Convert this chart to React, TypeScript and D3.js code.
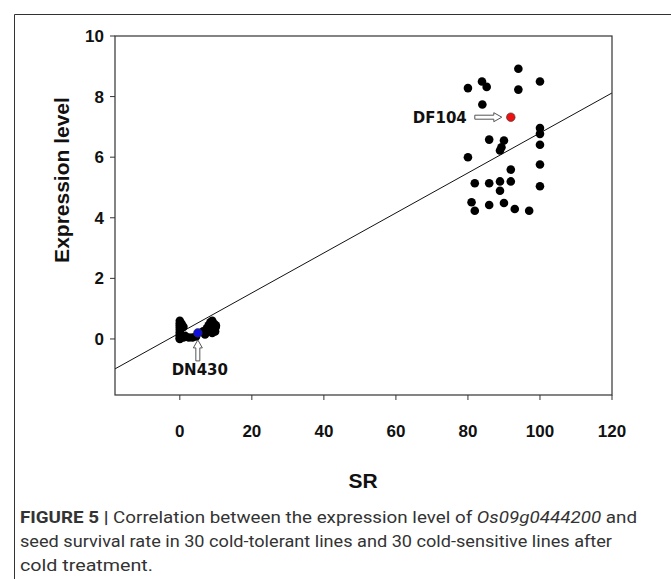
import React from "react";
import * as d3 from "d3";

const W = 671;
const H = 579;

// x ticks / y ticks
const xTicks = [0, 20, 40, 60, 80, 100, 120];
const yTicks = [0, 2, 4, 6, 8, 10];

// cold-tolerant lines (high SR)
const highSR = [94, 100, 80, 83.9, 85.2, 94, 84, 100, 100, 100, 85.9, 90, 89.3, 88.9, 80, 100, 91.9, 100, 81.9, 85.9, 88.9, 88.9, 91.9, 81, 81.9, 85.9, 90, 93, 97];
const highExpr = [8.92, 8.5, 8.28, 8.5, 8.32, 8.23, 7.74, 6.96, 6.77, 6.41, 6.58, 6.55, 6.33, 6.22, 6.0, 5.76, 5.59, 5.04, 5.14, 5.14, 5.2, 4.89, 5.2, 4.51, 4.23, 4.42, 4.49, 4.29, 4.23];

// cold-sensitive lines (low SR)
const lowSR = [0, 0, 0, 0, 0, 0, 0, 0, 0, 0.5, 1, 1.5, 2.5, 3.5, 4.5, 6.5, 7.5, 8, 8.5, 9, 9.5, 9.5, 10, 9, 10, 0, 1, 7, 9.8];
const lowExpr = [0.6, 0.52, 0.45, 0.38, 0.3, 0.22, 0.15, 0.08, 0.02, 0.5, 0.4, 0.1, 0.05, 0.05, 0.08, 0.25, 0.35, 0.45, 0.55, 0.6, 0.5, 0.3, 0.4, 0.2, 0.45, 0.0, 0.05, 0.15, 0.25];

// highlighted lines
const highlightNames = ["DF104", "DN430"];
const highlightSR = [91.9, 5];
const highlightExpr = [7.32, 0.2];
const highlightColors = ["#ee1111", "#1010dd"];

// regression line
const lineIntercept = 0.2;
const lineSlope = 0.066;

const xDomain = [-18, 120];
const yDomain = [-1.85, 10];

export default function App() {
  const left = 115, right = 612, top = 36, bottom = 395;
  const x = d3.scaleLinear().domain(xDomain).range([left, right]);
  const y = d3.scaleLinear().domain(yDomain).range([bottom, top]);
  const r = 4.3;

  const lineGen = d3.line<number>().x((d) => x(d)).y((d) => y(lineIntercept + lineSlope * d));

  const font = "'Liberation Sans', Arial, sans-serif";

  // DF104 arrow (horizontal, pointing right)
  const dfx = x(highlightSR[0]);
  const dfy = y(highlightExpr[0]);
  const ax0 = dfx - 36, ax1 = dfx - 9;
  const hArrow = `M${ax0},${dfy - 2} L${ax1 - 8},${dfy - 2} L${ax1 - 8},${dfy - 4.5} L${ax1},${dfy} L${ax1 - 8},${dfy + 4.5} L${ax1 - 8},${dfy + 2} L${ax0},${dfy + 2} Z`;

  // DN430 arrow (vertical, pointing up)
  const dnx = x(highlightSR[1]);
  const dny = y(highlightExpr[1]);
  const ay0 = dny + 28, ay1 = dny + 7;
  const vArrow = `M${dnx - 2},${ay0} L${dnx - 2},${ay1 + 8} L${dnx - 4.5},${ay1 + 8} L${dnx},${ay1} L${dnx + 4.5},${ay1 + 8} L${dnx + 2},${ay1 + 8} L${dnx + 2},${ay0} Z`;

  return (
    <svg width={W} height={H} style={{ position: "absolute", left: 0, top: 0, background: "#fff" }}>
      {/* outer frame */}
      <path d={`M14.5,${H} V14.5 H${W}`} fill="none" stroke="#333" strokeWidth={1} />

      {/* regression line */}
      <path d={lineGen([xDomain[0], xDomain[1]]) || ""} fill="none" stroke="#111" strokeWidth={1} />

      {/* plot box */}
      <rect x={left} y={top} width={right - left} height={bottom - top} fill="none" stroke="#333" strokeWidth={1.2} />

      {/* x ticks */}
      {xTicks.map((t) => (
        <g key={"xt" + t}>
          <line x1={x(t)} x2={x(t)} y1={bottom} y2={bottom + 5} stroke="#333" />
          <text x={x(t)} y={437} textAnchor="middle" fontFamily={font} fontWeight="bold" fontSize={17} fill="#111">
            {t}
          </text>
        </g>
      ))}
      {/* y ticks */}
      {yTicks.map((t) => (
        <g key={"yt" + t}>
          <line x1={left - 5} x2={left} y1={y(t)} y2={y(t)} stroke="#333" />
          <text x={104} y={y(t) + 6} textAnchor="end" fontFamily={font} fontWeight="bold" fontSize={17} fill="#111">
            {t}
          </text>
        </g>
      ))}

      {/* axis titles */}
      <text x={363} y={488} textAnchor="middle" fontFamily={font} fontWeight="bold" fontSize={21} fill="#111">
        SR
      </text>
      <text
        transform={`translate(69,180) rotate(-90)`}
        textAnchor="middle"
        fontFamily={font}
        fontWeight="bold"
        fontSize={21}
        fill="#111"
      >
        Expression level
      </text>

      {/* points */}
      {highSR.map((v, i) => (
        <circle key={"h" + i} cx={x(v)} cy={y(highExpr[i])} r={r} fill="#000" />
      ))}
      {lowSR.map((v, i) => (
        <circle key={"l" + i} cx={x(v)} cy={y(lowExpr[i])} r={r} fill="#000" />
      ))}
      {highlightSR.map((v, i) => (
        <circle key={"hl" + i} cx={x(v)} cy={y(highlightExpr[i])} r={r} fill={highlightColors[i]} stroke="#333" strokeWidth={0.6} />
      ))}

      {/* annotations */}
      <path d={hArrow} fill="#fff" stroke="#555" strokeWidth={1} />
      <text x={ax0 - 8} y={dfy + 5.5} textAnchor="end" fontFamily="'DejaVu Sans', sans-serif" fontWeight="bold" fontSize={15} fill="#111">
        {highlightNames[0]}
      </text>
      <path d={vArrow} fill="#fff" stroke="#555" strokeWidth={1} />
      <text x={dnx + 2} y={ay0 + 14} textAnchor="middle" fontFamily="'DejaVu Sans', sans-serif" fontWeight="bold" fontSize={15} fill="#111">
        {highlightNames[1]}
      </text>

      {/* caption */}
      <g fontFamily="'Roboto', 'Liberation Sans', sans-serif" fontSize={16} fill="#333">
        <text x={20} y={523} textLength={617} lengthAdjust="spacingAndGlyphs">
          <tspan fontWeight="bold">FIGURE 5 |</tspan>
          <tspan> Correlation between the expression level of </tspan>
          <tspan fontStyle="italic">Os09g0444200</tspan>
          <tspan> and</tspan>
        </text>
        <text x={20} y={547} textLength={592} lengthAdjust="spacingAndGlyphs">
          seed survival rate in 30 cold-tolerant lines and 30 cold-sensitive lines after
        </text>
        <text x={20} y={571} textLength={133} lengthAdjust="spacingAndGlyphs">
          cold treatment.
        </text>
      </g>
    </svg>
  );
}
